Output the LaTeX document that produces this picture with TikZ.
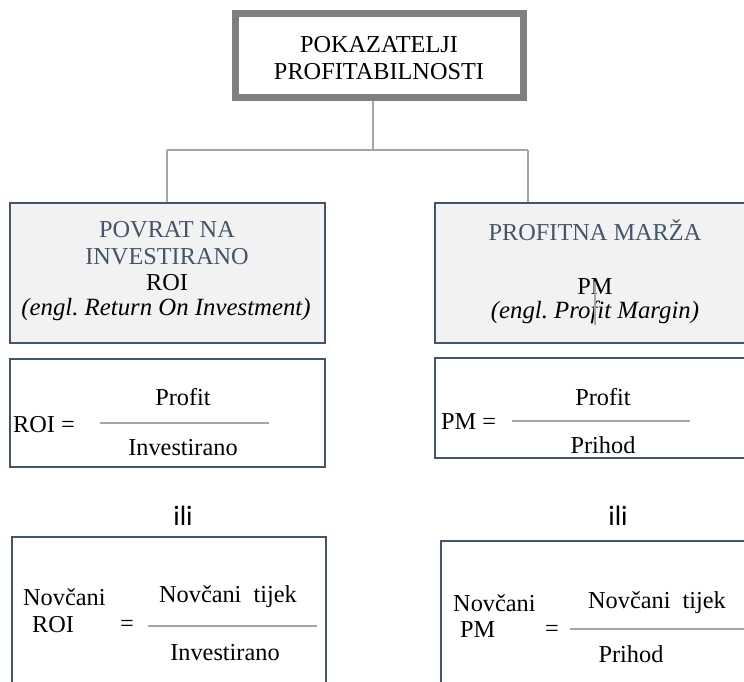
\documentclass[tikz,border=0pt]{standalone}
\usepackage{fontspec}
\setmainfont{Liberation Serif}
\newfontfamily\calib{Carlito}
\frenchspacing
\definecolor{boxblue}{HTML}{44546A}
\definecolor{titlegray}{HTML}{7F7F7F}
\definecolor{linegray}{HTML}{A6A6A6}
\definecolor{boxfill}{HTML}{F2F2F2}
\tikzset{
  txt/.style={inner sep=0pt, font=\fontsize{24.3}{29}\selectfont, align=center},
  ittxt/.style={inner sep=0pt, font=\fontsize{24.8}{29}\selectfont\itshape, align=center},
  titlebox/.style={draw=titlegray, line width=7pt, fill=white, inner sep=0pt},
  headbox/.style={draw=boxblue, line width=2pt, fill=boxfill, inner sep=0pt},
  formbox/.style={draw=boxblue, line width=2pt, fill=white, inner sep=0pt},
  conn/.style={draw=linegray, line width=2pt},
  fracline/.style={draw=linegray, line width=2.2pt},
  ili/.style={inner sep=0pt, font=\calib\fontsize{28}{32}\selectfont},
}
\begin{document}
\begin{tikzpicture}[x=1pt,y=-1pt]
\clip (0,0) rectangle (744,682);
\fill[white] (0,0) rectangle (744,682);
% title
\node[titlebox, minimum width=288pt, minimum height=84pt] (title) at (379,56) {};
\node[txt] (t1) at (379,45) {POKAZATELJI};
\node[txt] (t2) at (379,72) {PROFITABILNOSTI};
% connectors
\coordinate (j) at (373,150);
\coordinate (jl) at (167,150);
\coordinate (jr) at (528,150);
% head boxes
\node[headbox, minimum width=315pt, minimum height=140pt] (roi) at (167.5,273) {};
\node[headbox, minimum width=320pt, minimum height=140pt] (pm) at (595,273) {};
\draw[conn] (j |- title.south) -- (j);
\draw[conn] (jl) -- (jr);
\draw[conn] (jl) -- (jl |- roi.north);
\draw[conn] (jr) -- (jr |- pm.north);
\node[txt, text=boxblue] (r1) at (167,230) {POVRAT NA};
\node[txt, text=boxblue] (r2) at (167,257) {INVESTIRANO};
\node[txt] (r3) at (167,283) {ROI};
\node[ittxt] (r4) at (166,310) {(engl. Return On Investment)};
\node[txt, text=boxblue] (p1) at (595,230) {PROFITNA MARŽA};
\node[txt] (p3) at (595,287) {PM};
\node[ittxt] (p4) at (595,312) {(engl. Profit Margin)};
\coordinate (s1) at (595,282);
\coordinate (s2) at (595,325);
\draw[draw=linegray, line width=1.5pt] (s1) -- (s2);
% formula row 1
\node[formbox, minimum width=315pt, minimum height=108pt] (f1) at (167.5,413) {};
\node[formbox, minimum width=320pt, minimum height=100pt] (f2) at (595,408) {};
\node[txt, anchor=west] (f1a) at (13,425) {ROI =};
\node[txt] (f1n) at (183,397) {Profit};
\node[txt] (f1d) at (183,448) {Investirano};
\coordinate (l1a) at (100,423);
\coordinate (l1b) at (269,423);
\draw[fracline] (l1a) -- (l1b);
\node[txt, anchor=west] (f2a) at (441,422) {PM =};
\node[txt] (f2n) at (603,397) {Profit};
\node[txt] (f2d) at (603,445) {Prihod};
\coordinate (l2a) at (512,421);
\coordinate (l2b) at (690,421);
\draw[fracline] (l2a) -- (l2b);
% ili
\node[ili] (ili1) at (183,516) {ili};
\node[ili] (ili2) at (618,516) {ili};
% formula row 2
\node[formbox, minimum width=314pt, minimum height=170pt] (g1) at (169,622) {};
\node[formbox, minimum width=320pt, minimum height=170pt] (g2) at (601,626) {};
\node[txt, anchor=west] (g1a) at (23,597) {Novčani};
\node[txt, anchor=west] (g1b) at (32,625) {ROI};
\node[txt] (g1e) at (127,626) {=};
\node[txt] (g1n) at (228,597) {Novčani\ \ tijek};
\node[txt] (g1d) at (225,653) {Investirano};
\coordinate (m1a) at (148,626);
\coordinate (m1b) at (317,626);
\draw[fracline] (m1a) -- (m1b);
\node[txt, anchor=west] (g2a) at (453,603) {Novčani};
\node[txt, anchor=west] (g2b) at (460,630) {PM};
\node[txt] (g2e) at (552,631) {=};
\node[txt] (g2n) at (657,603) {Novčani\ \ tijek};
\node[txt] (g2d) at (631,654) {Prihod};
\coordinate (m2a) at (570,629);
\coordinate (m2b) at (750,629);
\draw[fracline] (m2a) -- (m2b);
\end{tikzpicture}
\end{document}
